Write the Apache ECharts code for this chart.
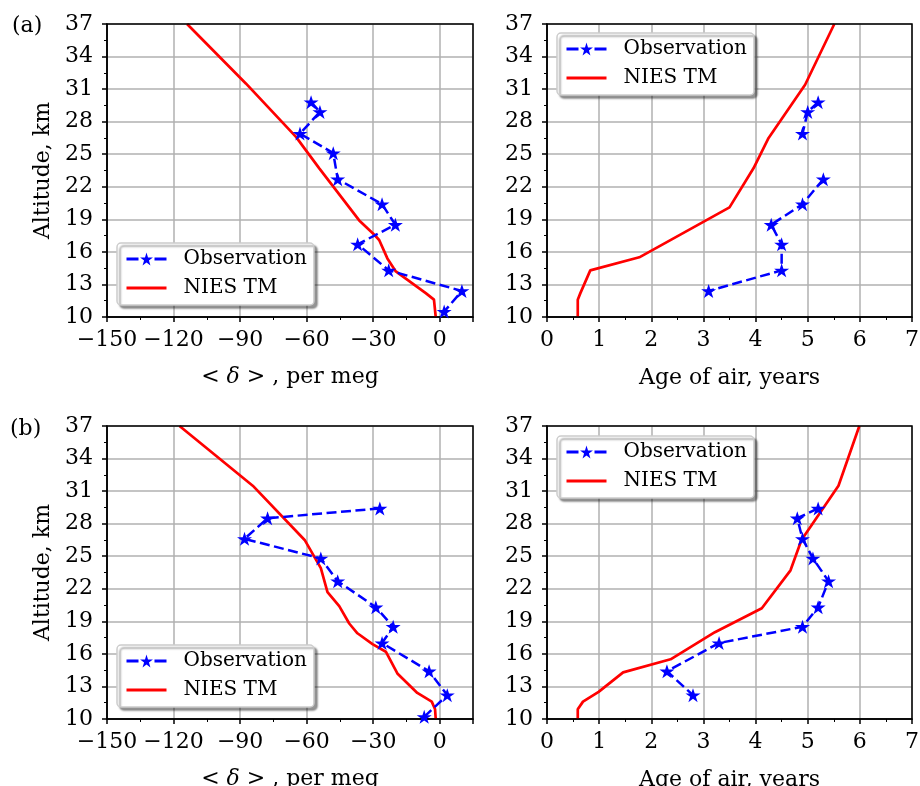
<!DOCTYPE html>
<html>
<head>
<meta charset="utf-8">
<title>Observation vs NIES TM</title>
<script src="https://cdn.jsdelivr.net/npm/echarts@6/dist/echarts.min.js"></script>
<style>
    html, body { margin: 0; padding: 0; background: #fff; }
    #chart { width: 920px; height: 786px; }
</style>
</head>
<body>
<div id="chart"></div>
<script>
// (a) observations
var altObsA = [29.8, 28.9, 26.9, 25.1, 22.7, 20.4, 18.5, 16.7, 14.3, 12.4, 10.5];
var deltaObsA = [-58, -54, -63, -48, -46, -26, -20, -37, -23, 10, 2];
var ageObsA = [5.2, 5.0, 4.9, null, 5.3, 4.9, 4.3, 4.5, 4.5, 3.1, null];
// (a) model
var altTmDeltaA = [10, 11.6, 12.2, 14.2, 15.4, 17.1, 17.6, 18.9, 23.7, 26.6, 31.5, 37];
var deltaTmA = [-1.8, -2.6, -6.3, -19.8, -23.6, -27.3, -29.6, -36.3, -54.3, -64.8, -87.3, -113.9];
var altTmAgeA = [10, 11.6, 12.2, 14.3, 15.5, 20.1, 23.7, 26.5, 31.4, 37];
var ageTmA = [0.59, 0.59, 0.64, 0.83, 1.77, 3.5, 3.96, 4.25, 4.95, 5.51];

// (b) observations
var altObsB = [29.4, 28.5, 26.6, 24.8, 22.7, 20.3, 18.5, 17.0, 14.4, 12.2, 10.2];
var deltaObsB = [-27, -77.6, -88, -53.6, -46, -28.8, -21, -26, -4.8, 3.4, -7];
var ageObsB = [5.2, 4.8, 4.9, 5.1, 5.4, 5.2, 4.9, 3.3, 2.3, 2.8, null];
// (b) model
var altTmDeltaB = [10, 10.9, 11.6, 12.4, 14.2, 16.2, 16.9, 17.9, 18.8, 20.4, 21.7, 23.9, 26.5, 31.5, 37];
var deltaTmB = [-1.8, -2.1, -3.6, -10.1, -19.1, -24.3, -30.3, -37.1, -40.8, -45.3, -50.6, -53.6, -60.9, -84.3, -117.3];
var altTmAgeB = [10, 10.9, 11.6, 12.5, 14.3, 15.5, 18.0, 20.2, 23.7, 26.5, 31.5, 37];
var ageTmB = [0.59, 0.59, 0.69, 0.99, 1.46, 2.37, 3.22, 4.12, 4.67, 4.88, 5.59, 5.99];

var seriesNames = ['Observation', 'NIES TM'];
var panelLabels = ['(a)', '(b)'];

var FONT = 'DejaVu Serif';
var STAR = 'path://M0,-10L2.245,-3.09L9.511,-3.09L3.633,1.18L5.878,8.09L0,3.82L-5.878,8.09L-3.633,1.18L-9.511,-3.09L-2.245,-3.09Z';

function pairs(xs, ys) {
    return xs.map(function (x, i) {
        return x == null ? ['-', ys[i]] : [x, ys[i]];
    });
}

function minus(v) {
    return String(v).replace('-', '\u2212');
}

var grids = [
    { left: 107, top: 24, width: 366, height: 293 },
    { left: 547, top: 24, width: 365, height: 293 },
    { left: 107, top: 426, width: 366, height: 293 },
    { left: 547, top: 426, width: 365, height: 293 }
].map(function (g) {
    return Object.assign(g, {
        show: true, z: 3, borderColor: '#000', borderWidth: 1.5,
        backgroundColor: 'transparent', containLabel: false, outerBoundsMode: 'none'
    });
});

function xAxis(idx, isDelta) {
    return {
        type: 'value',
        gridIndex: idx,
        min: isDelta ? -150 : 0,
        max: isDelta ? 15 : 7,
        interval: isDelta ? 30 : 1,
        name: isDelta ? '< {i|δ} > , per meg' : 'Age of air, years',
        nameLocation: 'middle',
        nameGap: isDelta ? 49 : 50,
        nameTextStyle: {
            fontFamily: FONT, fontSize: 22, color: '#000',
            rich: { i: { fontFamily: FONT, fontSize: 22, fontStyle: 'italic', color: '#000' } }
        },
        axisLine: { show: true, onZero: false, lineStyle: { color: '#000', width: 1.5 } },
        axisTick: { show: true, length: 5, lineStyle: { color: '#000', width: 1.5 } },
        minorTick: { show: true, splitNumber: 2, length: 3, lineStyle: { color: '#000', width: 1 } },
        axisLabel: {
            fontFamily: FONT, fontSize: 22, color: '#000', margin: 12,
            showMaxLabel: !isDelta, showMinLabel: true,
            formatter: minus
        },
        splitLine: { show: true, lineStyle: { color: '#b0b0b0', width: 1.5 } }
    };
}

function yAxis(idx, withName) {
    return {
        type: 'value',
        gridIndex: idx,
        min: 10,
        max: 37,
        interval: 3,
        name: withName ? 'Altitude, km' : '',
        nameLocation: 'middle',
        nameGap: 53,
        nameTextStyle: { fontFamily: FONT, fontSize: 22, color: '#000' },
        axisLine: { show: true, onZero: false, lineStyle: { color: '#000', width: 1.5 } },
        axisTick: { show: true, length: 5, lineStyle: { color: '#000', width: 1.5 } },
        minorTick: { show: true, splitNumber: 2, length: 3, lineStyle: { color: '#000', width: 1 } },
        axisLabel: { fontFamily: FONT, fontSize: 22, color: '#000', margin: 14 },
        splitLine: { show: true, lineStyle: { color: '#b0b0b0', width: 1.5 } }
    };
}

function obsSeries(idx, xs, ys) {
    return {
        name: seriesNames[0],
        type: 'line',
        xAxisIndex: idx,
        yAxisIndex: idx,
        data: pairs(xs, ys),
        symbol: STAR,
        symbolSize: [15, 14],
        connectNulls: false,
        itemStyle: { color: '#0000ff' },
        lineStyle: { color: '#0000ff', width: 2.5, type: [10, 4.5] },
        animation: false,
        z: 3
    };
}

function tmSeries(idx, xs, ys) {
    return {
        name: seriesNames[1],
        type: 'line',
        xAxisIndex: idx,
        yAxisIndex: idx,
        data: pairs(xs, ys),
        symbol: 'none',
        itemStyle: { color: '#ff0000' },
        lineStyle: { color: '#ff0000', width: 2.7 },
        animation: false,
        z: 2
    };
}

function legend(left, top) {
    return {
        left: left,
        top: top,
        orient: 'vertical',
        data: [
            { name: seriesNames[0], lineStyle: { type: [12, 16], width: 3 } },
            { name: seriesNames[1], itemStyle: { opacity: 0 }, lineStyle: { width: 3 } }
        ],
        selectedMode: false,
        itemWidth: 40,
        itemHeight: 16,
        itemGap: 7,
        padding: [5, 7, 6, 8],
        backgroundColor: '#fff',
        borderColor: '#cccccc',
        borderWidth: 1.5,
        borderRadius: 4,
        shadowColor: 'rgba(0,0,0,0.4)',
        shadowBlur: 2,
        shadowOffsetX: 3,
        shadowOffsetY: 3,
        textStyle: { fontFamily: FONT, fontSize: 20, lineHeight: 22, color: '#000', padding: [0, 0, 0, 12] }
    };
}

var option = {
    backgroundColor: '#fff',
    animation: false,
    grid: grids,
    xAxis: [xAxis(0, true), xAxis(1, false), xAxis(2, true), xAxis(3, false)],
    yAxis: [yAxis(0, true), yAxis(1, false), yAxis(2, true), yAxis(3, false)],
    legend: [legend(117, 243), legend(557, 33), legend(117, 645), legend(557, 436)],
    graphic: [
        { type: 'text', left: 12, top: 15, style: { text: panelLabels[0], fontFamily: FONT, fontSize: 22, fill: '#000' } },
        { type: 'text', left: 10, top: 418, style: { text: panelLabels[1], fontFamily: FONT, fontSize: 22, fill: '#000' } }
    ],
    series: [
        tmSeries(0, deltaTmA, altTmDeltaA),
        obsSeries(0, deltaObsA, altObsA),
        tmSeries(1, ageTmA, altTmAgeA),
        obsSeries(1, ageObsA, altObsA),
        tmSeries(2, deltaTmB, altTmDeltaB),
        obsSeries(2, deltaObsB, altObsB),
        tmSeries(3, ageTmB, altTmAgeB),
        obsSeries(3, ageObsB, altObsB)
    ]
};

var myChart = echarts.init(document.getElementById('chart'), null, { renderer: 'canvas' });
myChart.setOption(option);
</script>
</body>
</html>
